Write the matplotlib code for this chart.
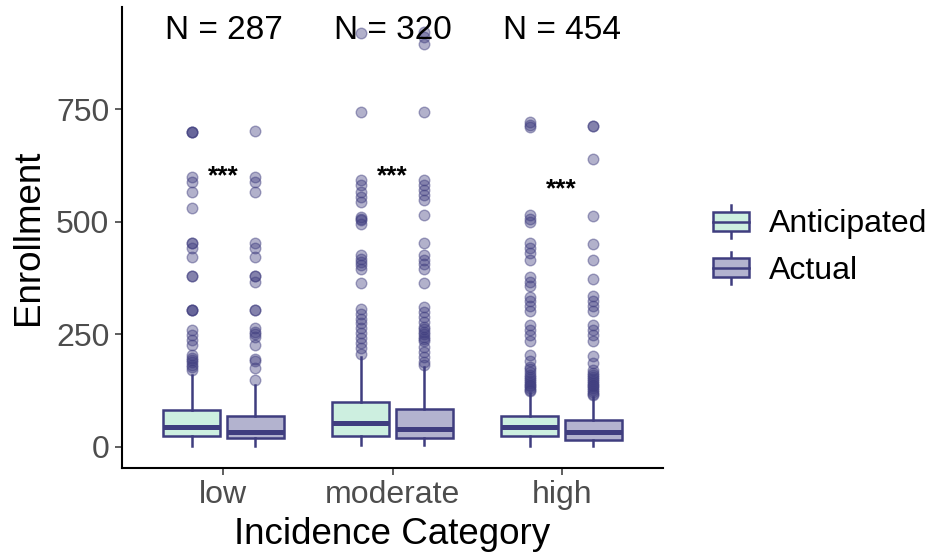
import matplotlib
matplotlib.use("Agg")
import matplotlib.pyplot as plt
from matplotlib.patches import Rectangle, Patch
from matplotlib.lines import Line2D
from matplotlib.legend_handler import HandlerBase
from matplotlib.colors import to_rgb

# ---------------- data ----------------
categories = ["low", "moderate", "high"]
n_counts = [287, 320, 454]
series_names = ["Anticipated", "Actual"]

ant_q1 = [24, 24, 24]
ant_med = [44, 53, 43]
ant_q3 = [82, 100, 69]
ant_whislo = [1, 4, 1]
ant_whishi = [159, 200, 119]

act_q1 = [19, 19, 16]
act_med = [33, 39, 33]
act_q3 = [69, 84, 59]
act_whislo = [1, 4, 1]
act_whishi = [137, 178, 111]

ant_out_low = [700, 700, 700, 600, 589, 567, 530, 452, 452, 441, 422, 379, 379,
               304, 304, 304, 259, 248, 237, 226, 204, 197, 192, 188, 182, 178, 170]
act_out_low = [701, 600, 589, 567, 452, 441, 422, 379, 379, 367, 304, 304, 263,
               256, 250, 244, 226, 196, 190, 174, 148]
ant_out_mod = [919, 744, 592, 581, 567, 555, 544, 511, 507, 504, 496, 426, 418,
               411, 404, 396, 363, 307, 296, 285, 274, 263, 252, 241, 230, 219, 207]
act_out_mod = [922, 911, 896, 744, 592, 581, 570, 559, 548, 515, 452, 426, 415,
               407, 396, 363, 311, 300, 289, 278, 267, 262, 256, 250, 245, 240,
               234, 222, 211, 200, 189, 182]
ant_out_high = [722, 716, 710, 516, 507, 500, 452, 441, 431, 415, 378, 367, 357,
                333, 323, 312, 301, 271, 260, 249, 234, 205, 190, 178, 172, 166,
                160, 155, 150, 146, 142, 138, 134, 130, 127, 124]
act_out_high = [713, 713, 639, 513, 450, 416, 372, 334, 323, 312, 301, 271, 260,
                249, 234, 201, 186, 170, 165, 160, 155, 150, 146, 142, 138, 134,
                130, 126, 122, 118, 115]

sig_labels = ["***", "***", "***"]
sig_y = [602, 602, 572]
n_label_y = 926

# ---------------- style ----------------
plt.rcParams["font.family"] = ["Liberation Sans", "DejaVu Sans"]
EDGE = "#3F3D7F"
FILL_ANT = "#CDEFE0"
FILL_ACT = "#B3B3CF"
er, eg, eb = to_rgb(EDGE)
LW = 1.8

fig = plt.figure(figsize=(9.34, 5.56), dpi=100)
ax = fig.add_axes([0.1306, 0.1588, 0.5793, 0.8281])


def make_stats(q1, med, q3, lo, hi, fliers):
    return [dict(q1=a, med=b, q3=c, whislo=d, whishi=e, fliers=f)
            for a, b, c, d, e, f in zip(q1, med, q3, lo, hi, fliers)]


ant_stats = make_stats(ant_q1, ant_med, ant_q3, ant_whislo, ant_whishi,
                       [ant_out_low, ant_out_mod, ant_out_high])
act_stats = make_stats(act_q1, act_med, act_q3, act_whislo, act_whishi,
                       [act_out_low, act_out_mod, act_out_high])

dodge = 0.1875
bw = 0.3375
base = list(range(1, len(categories) + 1))

for stats, fill, off in [(ant_stats, FILL_ANT, -dodge), (act_stats, FILL_ACT, dodge)]:
    ax.bxp(stats, positions=[p + off for p in base], widths=bw,
           patch_artist=True, showcaps=False,
           boxprops=dict(facecolor=fill, edgecolor=EDGE, linewidth=LW),
           medianprops=dict(color=EDGE, linewidth=3.6, solid_capstyle="butt"),
           whiskerprops=dict(color=EDGE, linewidth=LW),
           flierprops=dict(marker="o", markersize=7.6, linestyle="none",
                           markerfacecolor=(er, eg, eb, 0.4),
                           markeredgecolor=(er, eg, eb, 0.45),
                           markeredgewidth=1.0))

for p, n in zip(base, n_counts):
    ax.text(p, n_label_y, f"N = {n}", ha="center", va="center", fontsize=24,
            color="black")
for p, s, y in zip(base, sig_labels, sig_y):
    ax.text(p, y, s, ha="center", va="center", fontsize=19, fontweight="bold",
            color="black")

ax.set_xlim(0.4, 3.6)
ax.set_ylim(-46.5, 976.5)
ax.set_xticks(base)
ax.set_xticklabels(categories)
ax.set_yticks([0, 250, 500, 750])
ax.tick_params(axis="both", length=5, width=1.1, color="#333333",
               labelsize=23, labelcolor="#4D4D4D", pad=4)
for side in ["top", "right"]:
    ax.spines[side].set_visible(False)
for side in ["left", "bottom"]:
    ax.spines[side].set_linewidth(1.5)
    ax.spines[side].set_color("black")

ax.set_xlabel("Incidence Category", fontsize=26.5, labelpad=5)
ax.set_ylabel("Enrollment", fontsize=26.5, labelpad=7)


class BoxKeyHandler(HandlerBase):
    def create_artists(self, legend, orig_handle, xdescent, ydescent, width,
                       height, fontsize, trans):
        x0, y0 = -xdescent, -ydescent
        cx = x0 + width / 2
        bh = height * 0.6
        by = y0 + (height - bh) / 2
        whisk = Line2D([cx, cx], [y0, y0 + height], color=EDGE, lw=LW,
                       transform=trans)
        rect = Rectangle((x0, by), width, bh,
                         facecolor=orig_handle.get_facecolor(),
                         edgecolor=EDGE, lw=LW, transform=trans)
        med = Line2D([x0, x0 + width], [by + bh / 2] * 2, color=EDGE, lw=LW,
                     transform=trans)
        return [whisk, rect, med]


handles = [Patch(facecolor=FILL_ANT, edgecolor=EDGE),
           Patch(facecolor=FILL_ACT, edgecolor=EDGE)]
fig.legend(handles, series_names, handler_map={Patch: BoxKeyHandler()},
           loc="center left", bbox_to_anchor=(712.7 / 934, 1 - 245.5 / 556),
           frameon=False, fontsize=23, borderpad=0, borderaxespad=0,
           handlelength=1.15, handleheight=1.18, handletextpad=0.6,
           labelspacing=0.38)

fig.savefig("out.png", dpi=100)
